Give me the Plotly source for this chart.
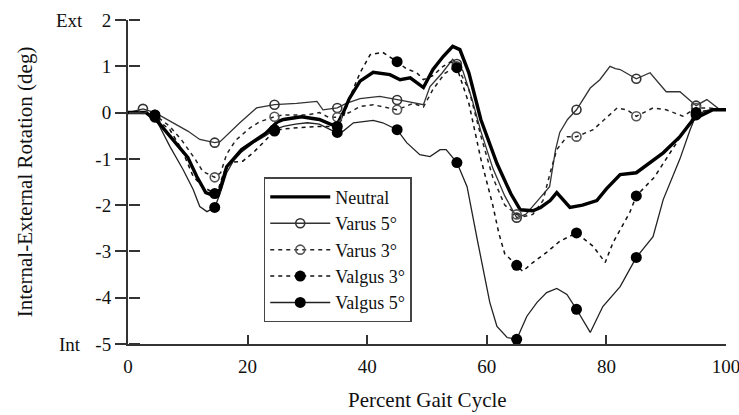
import plotly.graph_objects as go

# ---------------- data ----------------
x_tick_vals = [0, 20, 40, 60, 80, 100]
x_tick_text = ["0", "20", "40", "60", "80", "100"]
y_tick_vals = [-5, -4, -3, -2, -1, 0, 1, 2]
y_tick_text = ["-5", "-4", "-3", "-2", "-1", "0", "1", "2"]
series_names = ["Neutral", "Varus 5°", "Varus 3°", "Valgus 3°", "Valgus 5°"]

neutral_x = [0, 3, 5, 7.5, 10, 11.5, 13, 14.5, 15.4, 16.5, 17.6, 19, 21.5, 23, 25, 26, 29, 32, 34, 35,
             36, 37, 38.8, 41, 43.8, 45.5, 47.2, 49.4, 51, 52.7, 54.3, 55.5, 57, 59, 61.7, 64, 65.6, 67.7,
             69, 70.6, 71.7, 73.9, 76, 78.4, 80, 82.3, 85, 87.3, 89.5, 92.3, 94.5, 97.8, 100]
neutral_y = [0, 0, -0.2, -0.58, -0.97, -1.38, -1.73, -1.8, -1.66, -1.17, -1.0, -0.8, -0.58, -0.45, -0.2,
             -0.15, -0.09, -0.15, -0.26, -0.25, 0.0, 0.3, 0.68, 0.87, 0.82, 0.71, 0.75, 0.54, 0.93, 1.21,
             1.43, 1.36, 0.86, -0.15, -1.1, -1.75, -2.1, -2.12, -2.05, -1.9, -1.73, -2.05, -2.0, -1.9,
             -1.65, -1.34, -1.3, -1.08, -0.87, -0.52, -0.15, 0.06, 0.06]

varus5_x = [0, 2.5, 4.5, 7.5, 10, 12, 14.5, 15.4, 17, 18.7, 21.5, 24.5, 28.2, 31.6, 32.6, 35, 36.5, 38.8,
            42.1, 45, 46.6, 49.4, 50.5, 52.5, 54.3, 55, 56, 57.5, 59, 61, 63, 65, 66.5, 68.4, 70.5, 71.5,
            72.2, 73.5, 75, 77.3, 78.9, 80.6, 81.5, 82.3, 84.4, 85, 87.3, 90, 92.3, 95, 96.8, 99, 100]
varus5_y = [0, 0.08, 0, -0.22, -0.4, -0.58, -0.65, -0.63, -0.43, -0.22, 0.1, 0.17, 0.2, 0.24, 0.06, 0.1,
            0.2, 0.3, 0.35, 0.27, 0.24, 0.17, 0.56, 0.85, 1.15, 1.05, 0.9, 0.3, -0.4, -1.2, -1.8, -2.27,
            -2.2, -1.92, -1.6, -0.8, -0.43, -0.15, 0.06, 0.53, 0.71, 1.0, 0.95, 0.93, 0.78, 0.73, 0.86,
            0.45, 0.45, 0.15, 0.28, 0.06, 0.05]

varus3_x = [0, 2.5, 4.5, 7, 9, 11.2, 12.5, 14.5, 15.5, 16.5, 18, 20.4, 22, 24.5, 26, 28, 30, 32, 33.5, 35,
            37, 38.8, 41, 45, 47.7, 49.4, 51, 53, 55, 57, 59, 61, 63, 65, 66, 67.7, 69.4, 70.6, 71.7, 73.4,
            75, 77.8, 80, 81.8, 83.4, 85, 87.8, 90, 92.8, 95, 97, 100]
varus3_y = [0, 0, -0.05, -0.3, -0.6, -1.0, -1.27, -1.4, -1.3, -0.9, -0.6, -0.33, -0.2, -0.09, -0.05,
            -0.05, -0.05, 0.0, -0.1, -0.1, 0.0, 0.13, 0.17, 0.06, 0.2, 0.12, 0.5, 0.85, 1.0, 0.5, -0.5,
            -1.4, -2.0, -2.2, -2.25, -2.2, -1.9, -1.3, -0.8, -0.52, -0.52, -0.37, -0.1, 0.1, 0.06, -0.08,
            0.1, 0.06, -0.08, 0.1, 0.1, 0.05]

valgus3_x = [0, 3, 4.5, 5.5, 7, 9, 10.9, 12.5, 14.5, 15, 16, 17, 19.2, 20.9, 22.6, 24.5, 26, 28.2, 30.4,
             32, 35, 36, 37, 38.8, 40.5, 42.6, 45, 46.5, 48.3, 49.4, 51, 52.7, 54, 55, 57, 58, 59, 60, 61,
             62, 63, 65, 66, 67.7, 70, 72.2, 75, 77.8, 79.8, 81.1, 83.9, 85, 88, 90, 92, 94, 95, 97, 100]
valgus3_y = [0, 0, -0.05, -0.22, -0.37, -0.8, -1.38, -1.6, -1.75, -1.7, -1.3, -1.08, -1.05, -0.87, -0.65,
             -0.4, -0.35, -0.33, -0.3, -0.3, -0.3, -0.1, 0.3, 0.86, 1.25, 1.3, 1.1, 0.95, 0.86, 0.71, 0.8,
             1.0, 1.1, 0.97, 0.2, -0.4, -1.0, -1.5, -2.0, -2.6, -3.05, -3.3, -3.43, -3.24, -3.02, -2.78,
             -2.6, -2.89, -3.24, -2.81, -2.16, -1.8, -1.4, -1.0, -0.6, -0.2, 0.0, 0.05, 0.05]

valgus5_x = [0, 3, 4.5, 7, 9.2, 10.9, 12, 13.2, 14.5, 15.4, 16.5, 17.6, 19, 21, 23, 24.5, 26, 28, 30, 32,
             34, 35, 36, 37.7, 41, 42.6, 45, 46.6, 48.8, 50.5, 52.2, 53.2, 55, 56.7, 58.4, 59.4, 60.5,
             61.7, 63.4, 65, 66.7, 68.4, 70, 71.7, 73.4, 75, 77.3, 79.4, 82.3, 85, 87.8, 89.5, 92.3, 94,
             95, 97, 100]
valgus5_y = [0, 0, -0.1, -0.73, -1.23, -1.66, -2.03, -2.14, -2.05, -1.75, -1.3, -1.05, -0.85, -0.65, -0.5,
             -0.37, -0.3, -0.25, -0.22, -0.25, -0.38, -0.43, -0.4, -0.22, -0.17, -0.22, -0.37, -0.65,
             -0.91, -0.95, -0.8, -0.8, -1.08, -1.6, -2.74, -3.39, -4.1, -4.62, -4.86, -4.9, -4.4, -4.1,
             -3.89, -3.8, -3.93, -4.25, -4.75, -4.19, -3.76, -3.13, -2.68, -1.88, -1.0, -0.37, -0.05,
             0.05, 0.05]

varus5_marker_x = [2.5, 14.5, 24.5, 35, 45, 55, 65, 75, 85, 95]
other_marker_x = [4.5, 14.5, 24.5, 35, 45, 55, 65, 75, 85, 95]

# ---------------- styles ----------------
SERIF = "Liberation Serif, Times New Roman, serif"
INK = "#111111"

styles = {
    "Neutral":   dict(color="#000000", width=3.4, dash="solid", marker=None),
    "Varus 5°":  dict(color="#333333", width=1.3, dash="solid",
                      marker=dict(symbol="circle-open", size=9, color="#333333", line=dict(width=1.6))),
    "Varus 3°":  dict(color="#222222", width=1.5, dash="4px,4px",
                      marker=dict(symbol="circle-open", size=9, color="#555555", line=dict(width=1.6))),
    "Valgus 3°": dict(color="#111111", width=1.5, dash="4px,4px",
                      marker=dict(symbol="circle", size=11, color="#000000")),
    "Valgus 5°": dict(color="#222222", width=1.3, dash="solid",
                      marker=dict(symbol="circle", size=11, color="#000000")),
}

data = {
    "Neutral": (neutral_x, neutral_y, []),
    "Varus 5°": (varus5_x, varus5_y, varus5_marker_x),
    "Varus 3°": (varus3_x, varus3_y, other_marker_x),
    "Valgus 3°": (valgus3_x, valgus3_y, other_marker_x),
    "Valgus 5°": (valgus5_x, valgus5_y, other_marker_x),
}
for k, (xs, ys, _) in data.items():
    if len(xs) != len(ys):
        raise ValueError(f"length mismatch in {k}: {len(xs)} vs {len(ys)}")

fig = go.Figure()

# lines (thin first, neutral on top)
for name in ["Varus 5°", "Varus 3°", "Valgus 3°", "Valgus 5°", "Neutral"]:
    xs, ys, _ = data[name]
    st = styles[name]
    fig.add_trace(go.Scatter(x=xs, y=ys, mode="lines", showlegend=False, hoverinfo="skip",
                             line=dict(color=st["color"], width=st["width"], dash=st["dash"])))

# markers
for name in ["Varus 5°", "Varus 3°", "Valgus 3°", "Valgus 5°"]:
    xs, ys, mxs = data[name]
    st = styles[name]
    mx = [x for x in xs if x in mxs]
    my = [y for x, y in zip(xs, ys) if x in mxs]
    fig.add_trace(go.Scatter(x=mx, y=my, mode="markers", showlegend=False, hoverinfo="skip",
                             marker=st["marker"], cliponaxis=False))

# legend entries
for name in series_names:
    st = styles[name]
    kw = dict(line=dict(color=st["color"], width=st["width"] if name == "Neutral" else 1.5,
                        dash=st["dash"]))
    if st["marker"] is not None:
        kw["marker"] = st["marker"]
        mode = "lines+markers"
    else:
        mode = "lines"
    fig.add_trace(go.Scatter(x=[None], y=[None], mode=mode, name=name, **kw))

# invisible copy of the neutral series on the overlay axis that carries the inner half of the y ticks
fig.add_trace(go.Scatter(x=neutral_x, y=neutral_y, yaxis="y2", mode="lines", opacity=0,
                         line=dict(width=0.1), showlegend=False, hoverinfo="skip"))

axis_color = "#333333"
fig.update_layout(
    width=739, height=415,
    margin=dict(l=128, r=13, t=20, b=71, autoexpand=False),
    paper_bgcolor="white", plot_bgcolor="white",
    font=dict(family=SERIF, color=INK, size=19),
    xaxis=dict(range=[0, 100], tickvals=x_tick_vals, ticktext=x_tick_text, ticks="inside",
               ticklen=9, tickwidth=1.5, tickcolor=axis_color, showline=True, linecolor=axis_color,
               linewidth=2, showgrid=False, zeroline=False, tickfont=dict(size=19, family=SERIF),
               ticklabelstandoff=4, ticklabeloverflow="allow", automargin=False),
    yaxis=dict(range=[-5, 2], tickvals=y_tick_vals, ticktext=y_tick_text, ticks="outside",
               ticklen=11, tickwidth=1.5, tickcolor=axis_color, showline=True, linecolor=axis_color,
               linewidth=2, showgrid=False, zeroline=False, tickfont=dict(size=19, family=SERIF),
               ticklabeloverflow="allow", automargin=False),
    yaxis2=dict(range=[-5, 2], overlaying="y", anchor="free", position=0, side="right",
                tickvals=y_tick_vals, ticks="outside", ticklen=11, tickwidth=1.5,
                tickcolor=axis_color, showticklabels=False, showline=False, showgrid=False,
                zeroline=False, automargin=False),
    legend=dict(x=0.227, y=0.515, xanchor="left", yanchor="top", bgcolor="white",
                bordercolor="#444444", borderwidth=1.5, font=dict(size=18, family=SERIF),
                itemwidth=60, tracegroupgap=0, entrywidth=100, entrywidthmode="pixels"),
    annotations=[
        dict(text="Internal-External Rotation (deg)", xref="paper", yref="paper", x=-0.172, y=0.5,
             textangle=-90, showarrow=False, font=dict(size=21, family=SERIF),
             xanchor="center", yanchor="middle"),
        dict(text="Percent Gait Cycle", xref="paper", yref="paper", x=0.5, y=-0.173,
             showarrow=False, font=dict(size=21, family=SERIF), xanchor="center", yanchor="middle"),
        dict(text="Ext", xref="paper", yref="y", x=-0.097, y=2, showarrow=False,
             font=dict(size=19, family=SERIF), xanchor="center", yanchor="middle"),
        dict(text="Int", xref="paper", yref="y", x=-0.097, y=-5, showarrow=False,
             font=dict(size=19, family=SERIF), xanchor="center", yanchor="middle"),
    ],
)

fig.write_html("out.html")
